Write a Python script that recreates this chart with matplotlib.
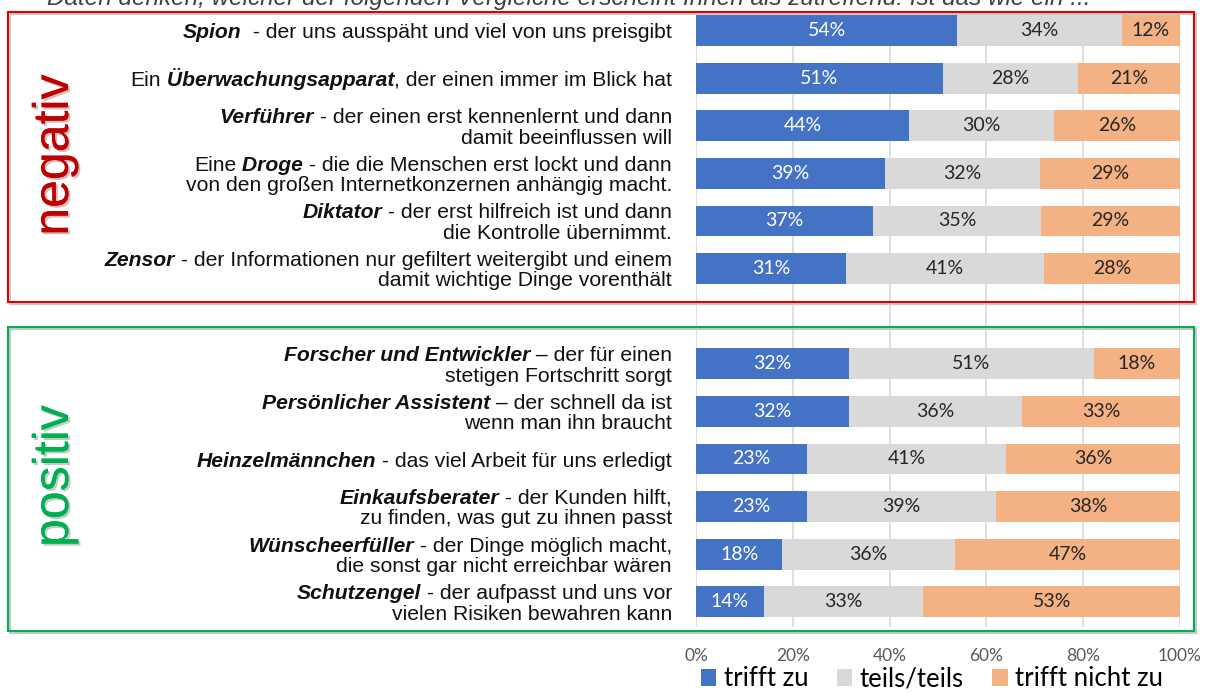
import matplotlib
matplotlib.use("Agg")
import matplotlib.pyplot as plt
from matplotlib.patches import Rectangle, Patch
from matplotlib.transforms import IdentityTransform
import matplotlib.patheffects as pe
import numpy as np

W, H, DPI = 1207, 693, 100

# ---------------- data ----------------
series_names = ["trifft zu", "teils/teils", "trifft nicht zu"]
series_colors = ["#4472C4", "#D9D9D9", "#F4B183"]

neg_labels = [
    [[("Spion", True), ("  - der uns ausspäht und viel von uns preisgibt", False)]],
    [[("Ein", False), (" Überwachungsapparat", True), (", der einen immer im Blick hat", False)]],
    [[("Verführer", True), (" - der einen erst kennenlernt und dann", False)],
     [("damit beeinflussen will", False)]],
    [[("Eine", False), (" Droge", True), (" - die die Menschen erst lockt und dann", False)],
     [("von den großen Internetkonzernen anhängig macht.", False)]],
    [[("Diktator", True), (" - der erst hilfreich ist und dann", False)],
     [("die Kontrolle übernimmt.", False)]],
    [[("Zensor", True), (" - der Informationen nur gefiltert weitergibt und einem", False)],
     [("damit wichtige Dinge vorenthält", False)]],
]
neg_trifft = [54, 51, 44, 39, 37, 31]
neg_teils = [34, 28, 30, 32, 35, 41]
neg_nicht = [12, 21, 26, 29, 29, 28]

pos_labels = [
    [[("Forscher und Entwickler", True), (" – der für einen", False)],
     [("stetigen Fortschritt sorgt", False)]],
    [[("Persönlicher Assistent", True), (" – der schnell da ist", False)],
     [("wenn man ihn braucht", False)]],
    [[("Heinzelmännchen", True), (" - das viel Arbeit für uns erledigt", False)]],
    [[("Einkaufsberater", True), (" - der Kunden hilft,", False)],
     [("zu finden, was gut zu ihnen passt", False)]],
    [[("Wünscheerfüller", True), (" - der Dinge möglich macht,", False)],
     [("die sonst gar nicht erreichbar wären", False)]],
    [[("Schutzengel", True), (" - der aufpasst und uns vor", False)],
     [("vielen Risiken bewahren kann", False)]],
]
pos_trifft = [32, 32, 23, 23, 18, 14]
pos_teils = [51, 36, 41, 39, 36, 33]
pos_nicht = [18, 33, 36, 38, 47, 53]

xticks = [0, 0.2, 0.4, 0.6, 0.8, 1.0]
xtick_labels = ["0%", "20%", "40%", "60%", "80%", "100%"]

header = "Daten denken, welcher der folgenden Vergleiche erscheint Ihnen als zutreffend: Ist das wie ein ..."
group_names = ["negativ", "positiv"]
group_colors = ["#C00000", "#00B050"]
box_colors = ["#E00000", "#00B050"]

# ---------------- figure ----------------
fig = plt.figure(figsize=(W / DPI, H / DPI), dpi=DPI)
fig.patch.set_facecolor("white")


def fx(px):
    return px / W


def fy(py_img):
    return 1 - py_img / H


ax_left, ax_right, ax_top, ax_bot = 696, 1180, 13, 627
ax = fig.add_axes([fx(ax_left), fy(ax_bot), fx(ax_right - ax_left), (ax_bot - ax_top) / H])

rows_neg = np.arange(len(neg_trifft))
rows_pos = np.arange(len(pos_trifft)) + len(neg_trifft) + 1
rows = np.concatenate([rows_neg, rows_pos])
vals = np.array([neg_trifft + pos_trifft, neg_teils + pos_teils, neg_nicht + pos_nicht], dtype=float)
fracs = vals / vals.sum(axis=0)

left = np.zeros(len(rows))
for i in range(3):
    ax.barh(rows, fracs[i], left=left, height=0.65, color=series_colors[i],
            edgecolor="none", zorder=2)
    for r, l, f, v in zip(rows, left, fracs[i], vals[i]):
        ax.text(l + f / 2, r, f"{int(v)}%", ha="center", va="center",
                fontsize=14, family="Lato",
                color="white" if i == 0 else "#262626", zorder=3)
    left = left + fracs[i]

ax.set_xlim(0, 1)
ax.set_ylim(12.53, -0.37)
ax.set_xticks(xticks)
ax.set_xticklabels(xtick_labels, family="Lato", fontsize=12.5, color="#595959")
ax.set_yticks([])
ax.tick_params(axis="x", length=0, pad=15)
ax.grid(axis="x", color="#D9D9D9", lw=1.2, zorder=0)
ax.set_axisbelow(True)
for s in ax.spines.values():
    s.set_visible(False)

# ---------------- category labels with mixed styles ----------------
fig.canvas.draw()
renderer = fig.canvas.get_renderer()
LABEL_FS = 15.2
label_x = 672
line_gap = 20.5
font_px = LABEL_FS * DPI / 72.0


def draw_line(segments, x_right, y_center):
    x = x_right
    y_base = y_center - 0.36 * font_px
    for text, bold in reversed(segments):
        t = fig.text(x, y_base, text, transform=IdentityTransform(), ha="right", va="baseline",
                     family="Liberation Sans", fontsize=LABEL_FS, color="#111111",
                     fontweight="bold" if bold else "normal",
                     fontstyle="italic" if bold else "normal")
        w = t.get_window_extent(renderer).width
        x -= w


for r, lab in zip(rows, neg_labels + pos_labels):
    yc = ax.transData.transform((0, r))[1]
    n = len(lab)
    for k, line in enumerate(lab):
        offset = (k - (n - 1) / 2) * line_gap
        draw_line(line, label_x, yc - offset)

# ---------------- group boxes ----------------
boxes = [(7.5, 12, 1194, 302), (7.5, 327, 1194, 631)]
for (x0, y0, x1, y1), col in zip(boxes, box_colors):
    sh = Rectangle((fx(x0 + 2), fy(y1 + 2)), fx(x1 - x0), (y1 - y0) / H,
                   transform=fig.transFigure, fill=False, edgecolor="#C8C8C8", lw=1.5, zorder=4)
    fig.add_artist(sh)
    rect = Rectangle((fx(x0), fy(y1)), fx(x1 - x0), (y1 - y0) / H,
                     transform=fig.transFigure, fill=False, edgecolor=col, lw=1.5, zorder=5)
    fig.add_artist(rect)

group_pos = [(55, 155), (55, 476)]
for name, col, (gx, gy) in zip(group_names, group_colors, group_pos):
    fig.text(fx(gx), fy(gy), name, rotation=90, ha="center", va="center",
             family="Liberation Sans", fontsize=36, color=col,
             path_effects=[pe.withSimplePatchShadow(offset=(1.5, -1.5), alpha=0.25), pe.Normal()])

# ---------------- header (cut off at top, as in the source) ----------------
fig.text(fx(47), fy(5), header, ha="left", va="baseline", family="Liberation Sans",
         fontstyle="italic", fontsize=17.5, color="#404040")

# ---------------- legend ----------------
handles = [Patch(facecolor=c, edgecolor="none") for c in series_colors]
fig.legend(handles, series_names, loc="center", bbox_to_anchor=(fx(932), fy(679)),
           ncol=3, frameon=False, prop={"family": "Lato", "size": 18.5},
           handlelength=0.6, handleheight=0.6, handletextpad=0.3, columnspacing=1.1,
           borderpad=0, borderaxespad=0)

fig.savefig("out.png", dpi=DPI, facecolor="white")
